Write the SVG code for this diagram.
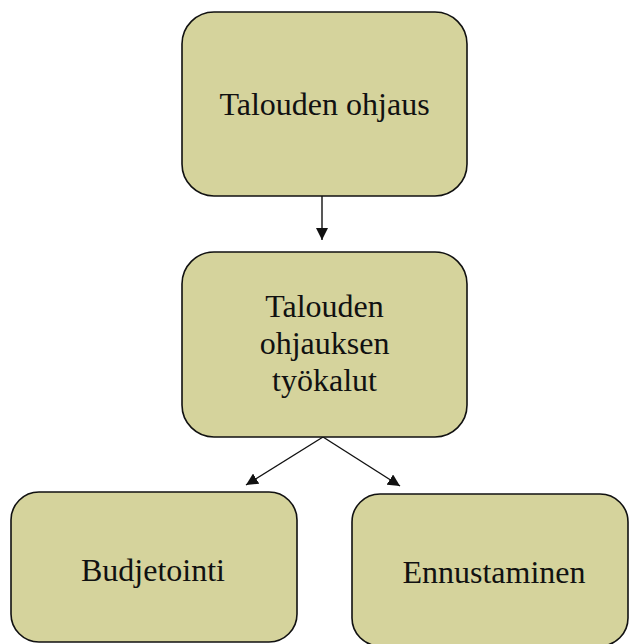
<svg xmlns="http://www.w3.org/2000/svg" width="629" height="644" viewBox="0 0 629 644">
<style>
.box{fill:#d5d39c;stroke:#111;stroke-width:1.6}
.t{font-family:"Liberation Serif","Times New Roman",serif;font-size:32px;fill:#111;text-anchor:middle}
.c{stroke:#111;stroke-width:1.4;fill:none}
</style>
<defs>
<marker id="ah" markerWidth="12" markerHeight="12" viewBox="0 0 12 12" refX="12" refY="6" orient="auto" markerUnits="userSpaceOnUse">
<path d="M0,0 L12,6 L0,12 Z" fill="#111"/>
</marker>
</defs>
<rect width="629" height="644" fill="#fff"/>
<g id="connectors">
<line class="c" x1="322" y1="196" x2="322" y2="240" marker-end="url(#ah)"/>
<line class="c" x1="323" y1="437" x2="246" y2="485" marker-end="url(#ah)"/>
<line class="c" x1="323" y1="437" x2="400" y2="486" marker-end="url(#ah)"/>
</g>
<g id="node-talouden-ohjaus">
<rect class="box" x="182" y="12" width="285" height="184" rx="32"/>
<text class="t" x="324.5" y="115">Talouden ohjaus</text>
</g>
<g id="node-tyokalut">
<rect class="box" x="182" y="252" width="285" height="185" rx="32"/>
<text class="t" x="324.5" y="317">Talouden</text>
<text class="t" x="324.5" y="354">ohjauksen</text>
<text class="t" x="324.5" y="391">työkalut</text>
</g>
<g id="node-budjetointi">
<rect class="box" x="11" y="492" width="286" height="150" rx="28"/>
<text class="t" x="153" y="581">Budjetointi</text>
</g>
<g id="node-ennustaminen">
<rect class="box" x="352" y="494" width="276" height="152" rx="28"/>
<text class="t" x="494" y="583">Ennustaminen</text>
</g>
</svg>
